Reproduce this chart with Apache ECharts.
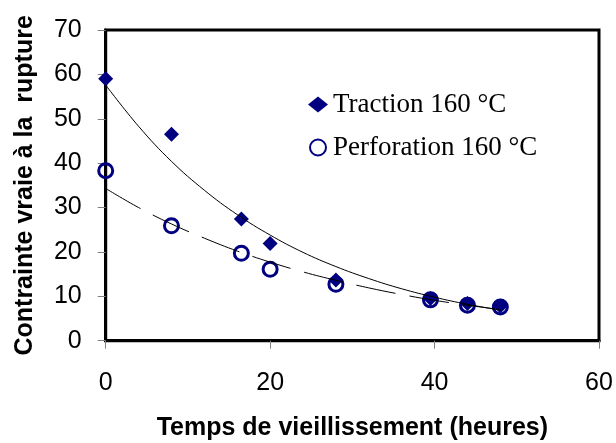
<!DOCTYPE html>
<html>
<head>
<meta charset="utf-8">
<style>
  html, body { margin: 0; padding: 0; background: #fff; }
  #chart { width: 616px; height: 443px; }
</style>
<script src="https://cdn.jsdelivr.net/npm/echarts@6/dist/echarts.min.js"></script>
</head>
<body>
<div id="chart"></div>
<script>
// Ageing time (hours) and true stress at rupture for the two test types
const tractionPoints = [[0, 59.0], [8, 46.5], [16.5, 27.4], [20, 21.9], [28, 13.7], [39.5, 9.5], [44, 8.4], [48, 7.8]];
const perforationPoints = [[0, 38.3], [8, 25.9], [16.5, 19.7], [20, 16.1], [28, 12.7], [39.5, 9.2], [44, 8.0], [48, 7.6]];

// Exponential trend curves, sampled along x
const tractionTrend = [[0, 57.6], [4, 48.3], [8, 40.4], [12, 33.9], [16, 28.4], [20, 23.8], [24, 19.9], [28, 16.7], [32, 14.0], [36, 11.7], [40, 9.8], [44, 8.2], [48, 6.9]];
const perforationTrend = [[0, 34.3], [4, 30.0], [8, 26.3], [12, 23.1], [16, 20.2], [20, 17.7], [24, 15.5], [28, 13.6], [32, 11.9], [36, 10.4], [40, 9.1], [44, 8.0], [48, 7.0]];

const seriesNames = ['Traction 160 °C', 'Perforation 160 °C'];
const xTitle = 'Temps de vieillissement (heures)';
const yTitle = 'Contrainte vraie à la  rupture';

const navy = '#000080';
const sans = 'Liberation Sans, Arial, sans-serif';

const chart = echarts.init(document.getElementById('chart'), null, { renderer: 'canvas' });

chart.setOption({
  animation: false,
  backgroundColor: '#ffffff',
  grid: {
    left: 105.7, right: 17, top: 30, bottom: 102.3,
    containLabel: false, outerBoundsMode: 'none',
    show: true, borderColor: '#000', borderWidth: 3, backgroundColor: 'transparent'
  },
  legend: {
    orient: 'vertical',
    left: 303, top: 86,
    itemWidth: 20, itemHeight: 16, itemGap: 16,
    data: seriesNames,
    textStyle: { fontFamily: 'Liberation Serif, Times New Roman, serif', fontSize: 27, color: '#000' }
  },
  xAxis: {
    type: 'value', min: 0, max: 60, interval: 20,
    name: xTitle, nameLocation: 'middle', nameGap: 75,
    nameTextStyle: { fontFamily: sans, fontSize: 25, fontWeight: 'bold', color: '#000' },
    axisLine: { show: true, onZero: false, lineStyle: { color: '#000', width: 3 } },
    axisTick: { show: true, inside: false, length: 8, lineStyle: { color: '#808080', width: 1 } },
    axisLabel: { margin: 30, fontFamily: sans, fontSize: 25, color: '#000' },
    splitLine: { show: false }
  },
  yAxis: {
    type: 'value', min: 0, max: 70, interval: 10,
    name: yTitle, nameLocation: 'middle', nameGap: 68, nameRotate: 90,
    nameTextStyle: { fontFamily: sans, fontSize: 25, fontWeight: 'bold', color: '#000' },
    axisLine: { show: true, onZero: false, lineStyle: { color: '#000', width: 3 } },
    axisTick: { show: true, inside: false, length: 8, lineStyle: { color: '#808080', width: 1 } },
    axisLabel: { margin: 24, fontFamily: sans, fontSize: 25, color: '#000' },
    splitLine: { show: false }
  },
  series: [
    {
      name: seriesNames[0], type: 'scatter', data: tractionPoints,
      symbol: 'diamond', symbolSize: 15,
      itemStyle: { color: navy, opacity: 1 }, z: 2
    },
    {
      name: seriesNames[1], type: 'scatter', data: perforationPoints,
      symbol: 'circle', symbolSize: 14,
      itemStyle: { color: 'rgba(255,255,255,0)', borderColor: navy, borderWidth: 3, opacity: 1 }, z: 3
    },
    {
      name: 'trend-traction', type: 'line', data: tractionTrend,
      smooth: 0.4, showSymbol: false, silent: true,
      lineStyle: { color: '#000', width: 1 }, z: 4
    },
    {
      name: 'trend-perforation', type: 'line', data: perforationTrend,
      smooth: 0.4, showSymbol: false, silent: true,
      lineStyle: { color: '#000', width: 1, type: [40, 14] }, z: 4
    }
  ]
});
</script>
</body>
</html>
